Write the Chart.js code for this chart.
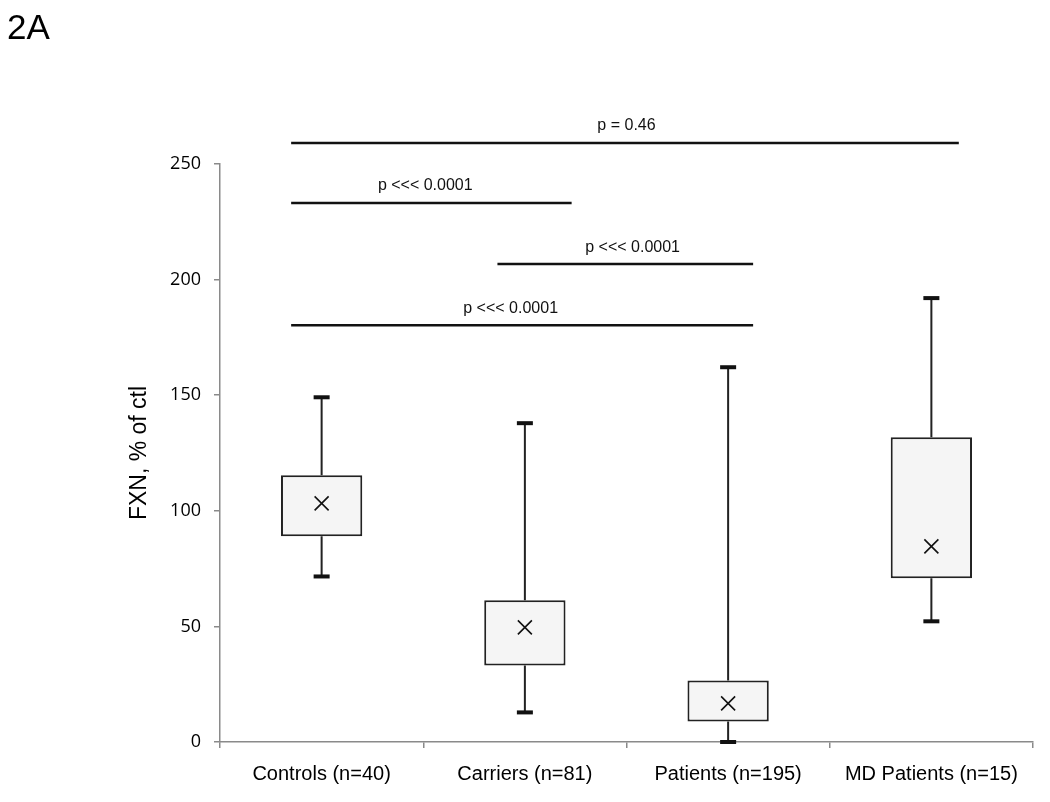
<!DOCTYPE html>
<html>
<head>
<meta charset="utf-8">
<script src="https://cdn.jsdelivr.net/npm/chart.js@4"></script>
<style>
html,body{margin:0;padding:0;background:#fff;}
#wrap{width:1050px;height:802px;position:relative;}
</style>
</head>
<body>
<div id="wrap"><canvas id="c" width="1050" height="802"></canvas></div>
<script>
// ---- data ----
const categories = ['Controls (n=40)', 'Carriers (n=81)', 'Patients (n=195)', 'MD Patients (n=15)'];
const whiskerLow  = [71.6, 12.8, 0, 52.2];
const q1          = [89.0, 33.1, 8.9, 70.8];
const q3          = [115.4, 61.3, 26.6, 131.8];
const whiskerHigh = [149.1, 137.9, 162.1, 192.0];
const means       = [103.2, 49.6, 16.7, 84.6];
const yTicks      = [0, 50, 100, 150, 200, 250];

// significance brackets (positions in category-index units)
const sigLabels = ['p = 0.46', 'p <<< 0.0001', 'p <<< 0.0001', 'p <<< 0.0001'];
const sigValue  = [259.1, 233.1, 206.7, 180.3];
const sigFrom   = [-0.15, -0.15, 0.865, -0.15];
const sigTo     = [3.135, 1.23, 2.123, 2.123];
const sigTextAt = [1.5, 0.51, 1.53, 0.93];

const panelLabel = '2A';
const yTitle = 'FXN, % of ctl';

const boxData = categories.map((c, i) => [q1[i], q3[i]]);

const boxPlugin = {
  id: 'boxExtras',
  beforeDatasetsDraw(chart) {
    const ctx = chart.ctx, x = chart.scales.x, y = chart.scales.y;
    ctx.save();
    ctx.strokeStyle = '#222';
    ctx.lineWidth = 2;
    categories.forEach((c, i) => {
      const px = x.getPixelForValue(i);
      ctx.beginPath();
      ctx.moveTo(px, y.getPixelForValue(whiskerHigh[i]));
      ctx.lineTo(px, y.getPixelForValue(q3[i]));
      ctx.moveTo(px, y.getPixelForValue(q1[i]));
      ctx.lineTo(px, y.getPixelForValue(whiskerLow[i]));
      ctx.stroke();
    });
    ctx.restore();
  },
  afterDatasetsDraw(chart) {
    const ctx = chart.ctx, x = chart.scales.x, y = chart.scales.y;
    ctx.save();
    ctx.fillStyle = '#111';
    categories.forEach((c, i) => {
      const px = x.getPixelForValue(i);
      [whiskerHigh[i], whiskerLow[i]].forEach(v => {
        const py = y.getPixelForValue(v);
        ctx.fillRect(px - 8, py - 2, 16, 4);
      });
      // mean marker X
      const my = y.getPixelForValue(means[i]);
      ctx.strokeStyle = '#111';
      ctx.lineWidth = 1.6;
      ctx.beginPath();
      ctx.moveTo(px - 7, my - 7); ctx.lineTo(px + 7, my + 7);
      ctx.moveTo(px + 7, my - 7); ctx.lineTo(px - 7, my + 7);
      ctx.stroke();
    });
    // significance lines
    ctx.strokeStyle = '#111';
    ctx.lineWidth = 2.5;
    ctx.font = '16px "Liberation Sans", Arial, sans-serif';
    ctx.textAlign = 'center';
    ctx.textBaseline = 'middle';
    sigLabels.forEach((lab, i) => {
      const py = y.getPixelForValue(sigValue[i]);
      ctx.beginPath();
      ctx.moveTo(x.getPixelForValue(sigFrom[i]), py);
      ctx.lineTo(x.getPixelForValue(sigTo[i]), py);
      ctx.stroke();
      ctx.fillText(lab, x.getPixelForValue(sigTextAt[i]), py - 17);
    });
    // panel label
    ctx.textAlign = 'left';
    ctx.textBaseline = 'alphabetic';
    ctx.font = '35px "Liberation Sans", Arial, sans-serif';
    ctx.fillStyle = '#000';
    ctx.fillText(panelLabel, 7, 39);
    ctx.restore();
  }
};

new Chart(document.getElementById('c'), {
  type: 'bar',
  data: {
    labels: categories,
    datasets: [{
      data: boxData,
      backgroundColor: '#f5f5f5',
      borderColor: '#222',
      borderWidth: 2,
      borderSkipped: false,
      barPercentage: 0.4,
      categoryPercentage: 1.0
    }]
  },
  options: {
    responsive: false,
    animation: false,
    devicePixelRatio: 1,
    layout: { padding: { top: 164, right: 17, left: 0, bottom: 0 } },
    plugins: { legend: { display: false }, tooltip: { enabled: false }, title: { display: false } },
    scales: {
      x: {
        afterFit(s) { s.height = 60; },
        grid: { offset: true, drawOnChartArea: false, drawTicks: true, tickLength: 6, color: '#8a8a8a', lineWidth: 1.5 },
        border: { color: '#8a8a8a', width: 1.5 },
        ticks: { color: '#000', font: { family: '"Liberation Sans", Arial, sans-serif', size: 20 }, padding: 14, maxRotation: 0 }
      },
      y: {
        min: 0, max: 250,
        afterFit(s) { s.width = 220; },
        afterBuildTicks(s) { s.ticks = yTicks.map(v => ({ value: v })); },
        grid: { drawOnChartArea: false, drawTicks: true, tickLength: 6, color: '#8a8a8a', lineWidth: 1.5 },
        border: { color: '#8a8a8a', width: 1.5 },
        ticks: { color: '#000', font: { family: '"Open Sans", sans-serif', size: 18 }, padding: 13 },
        title: { display: true, text: yTitle, color: '#000', font: { family: '"Liberation Sans", Arial, sans-serif', size: 23 }, padding: { top: 126, bottom: 0 } }
      }
    }
  },
  plugins: [boxPlugin]
});
</script>
</body>
</html>
